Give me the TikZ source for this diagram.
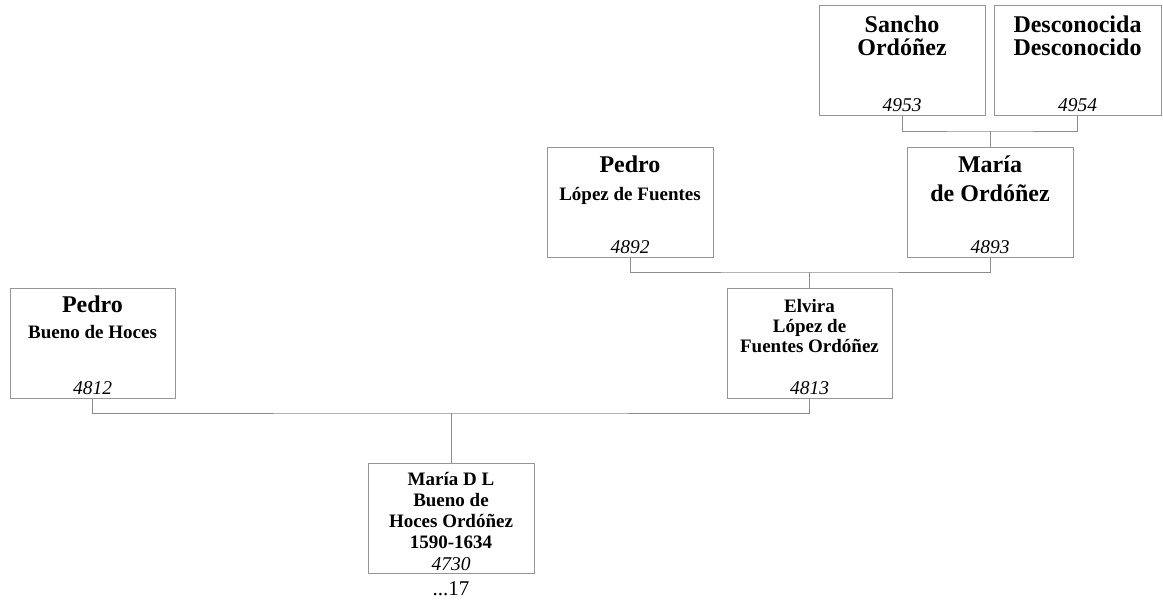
\documentclass[tikz,border=0pt]{standalone}
\usepackage{fontspec}
\setmainfont{Liberation Serif}
\definecolor{boxgray}{RGB}{150,150,150}
\definecolor{linkgray}{RGB}{140,140,140}
\tikzset{
  person/.style={draw=boxgray,line width=1pt,anchor=north,inner sep=0pt,
    minimum width=166pt,minimum height=110pt},
  bigname/.style={anchor=base,align=center,inner sep=0pt,
    font=\bfseries\fontsize{24}{23}\selectfont},
  smallname/.style={anchor=base,align=center,inner sep=0pt,
    font=\bfseries\fontsize{19}{21}\selectfont},
  idnum/.style={anchor=base,inner sep=0pt,font=\itshape\fontsize{19.5}{21}\selectfont},
  link/.style={draw=linkgray,line width=1pt}
}

\begin{document}
\begin{tikzpicture}[x=1pt,y=-1pt]
\path[use as bounding box] (0,0) rectangle (1163,600);

% boxes
\node[person] (sancho) at (902,5) {};
\node[person,minimum width=167pt] (descon) at (1077.5,5) {};
\node[person] (maria) at (990,147) {};
\node[person] (pedroLF) at (630,147) {};
\node[person,minimum width=165pt] (elvira) at (809.5,288) {};
\node[person,minimum width=165pt] (pedroBH) at (92.5,288) {};
\node[person] (mariaDL) at (451,463) {};

% names (base = last line)
\node[bigname] (sancho-name) at ([yshift=-50]sancho.north) {Sancho\\Ordóñez};
\node[bigname] (descon-name) at ([yshift=-50]descon.north) {Desconocida\\Desconocido};
\node[bigname] (maria-name) at ([yshift=-54]maria.north) {María\\[6pt]de Ordóñez};
\node[bigname] (pedroLF-name) at ([yshift=-25]pedroLF.north) {Pedro};
\node[smallname] (pedroLF-sur) at ([yshift=-53]pedroLF.north) {López de Fuentes};
\node[smallname,font=\bfseries\fontsize{19}{20}\selectfont] (elvira-name) at ([yshift=-64]elvira.north) {Elvira\\López de\\Fuentes Ordóñez};
\node[bigname] (pedroBH-name) at ([yshift=-24]pedroBH.north) {Pedro};
\node[smallname] (pedroBH-sur) at ([yshift=-50]pedroBH.north) {Bueno de Hoces};
\node[smallname] (mariaDL-name) at ([yshift=-85]mariaDL.north) {María D L\\Bueno de\\Hoces Ordóñez\\1590-1634};

% numbers
\node[idnum] (sancho-id) at ([yshift=5]sancho.south) {4953};
\node[idnum] (descon-id) at ([yshift=5]descon.south) {4954};
\node[idnum] (maria-id) at ([yshift=5]maria.south) {4893};
\node[idnum] (pedroLF-id) at ([yshift=5]pedroLF.south) {4892};
\node[idnum] (elvira-id) at ([yshift=5]elvira.south) {4813};
\node[idnum] (pedroBH-id) at ([yshift=5]pedroBH.south) {4812};
\node[idnum] (mariaDL-id) at ([yshift=4]mariaDL.south) {4730};
\node[anchor=base,inner sep=0pt,font=\fontsize{21}{21}\selectfont] (more) at ([yshift=-21]mariaDL.south) {...17};

% links
\coordinate (j1) at (990,131);
\coordinate (j2) at (809.5,272);
\coordinate (j3) at (451,413);
\draw[link] (sancho.south) |- (j1) -| (descon.south);
\draw[link] (j1) -- (maria.north);
\draw[link] (pedroLF.south) |- (j2) -| (maria.south);
\draw[link] (j2) -- (elvira.north);
\draw[link] (pedroBH.south) |- (j3) -| (elvira.south);
\draw[link] (j3) -- (mariaDL.north);
\end{tikzpicture}
\end{document}
